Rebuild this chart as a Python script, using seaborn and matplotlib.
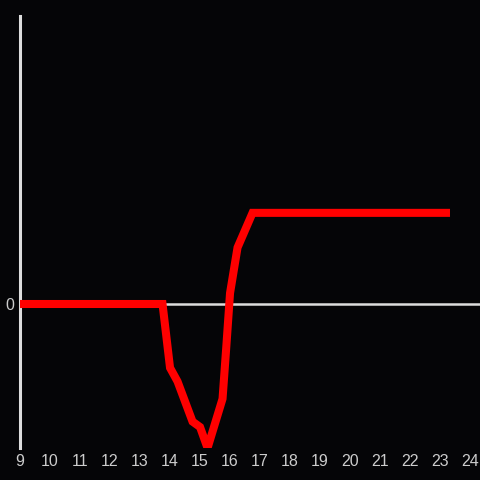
import matplotlib
matplotlib.use('Agg')
import matplotlib.pyplot as plt
import seaborn as sns
import pandas as pd

# Data (hour of day vs. relative change)
hours = [9, 13.75, 14.0, 14.25, 14.75, 15.0, 15.25, 15.75, 15.875, 16.0, 16.25, 16.75, 23.33]
values = [0, 0, -0.70, -0.85, -1.29, -1.35, -1.58, -1.04, -0.47, 0.12, 0.62, 1.0, 1.0]
xticks = list(range(9, 25))

df = pd.DataFrame({'hour': hours, 'value': values})

sns.set_style('white')
plt.rcParams['font.family'] = ['Liberation Sans', 'DejaVu Sans']

bg = '#050507'
fg = '#dddddd'

fig = plt.figure(figsize=(4.8, 4.8), dpi=100, facecolor=bg)
ax = fig.add_axes([20 / 480, 32 / 480, 460 / 480, 432 / 480])
ax.set_facecolor(bg)

ax.axhline(0, color=fg, lw=1.8, zorder=1)
sns.lineplot(data=df, x='hour', y='value', ax=ax, color='#ff0000', lw=5.8,
             zorder=3, sort=False, solid_capstyle='butt', solid_joinstyle='miter')

ax.set_xlim(9, 24.33)
ax.set_ylim(-1.58, 3.16)
ax.set_xticks(xticks)
ax.set_yticks([0])
ax.set_xlabel('')
ax.set_ylabel('')
ax.tick_params(length=0, colors='#cccccc', labelsize=11.5, pad=4)

for s in ['top', 'right', 'bottom']:
    ax.spines[s].set_visible(False)
ax.spines['left'].set_color(fg)
ax.spines['left'].set_linewidth(2.2)

fig.savefig('out.png', dpi=100, facecolor=bg)
